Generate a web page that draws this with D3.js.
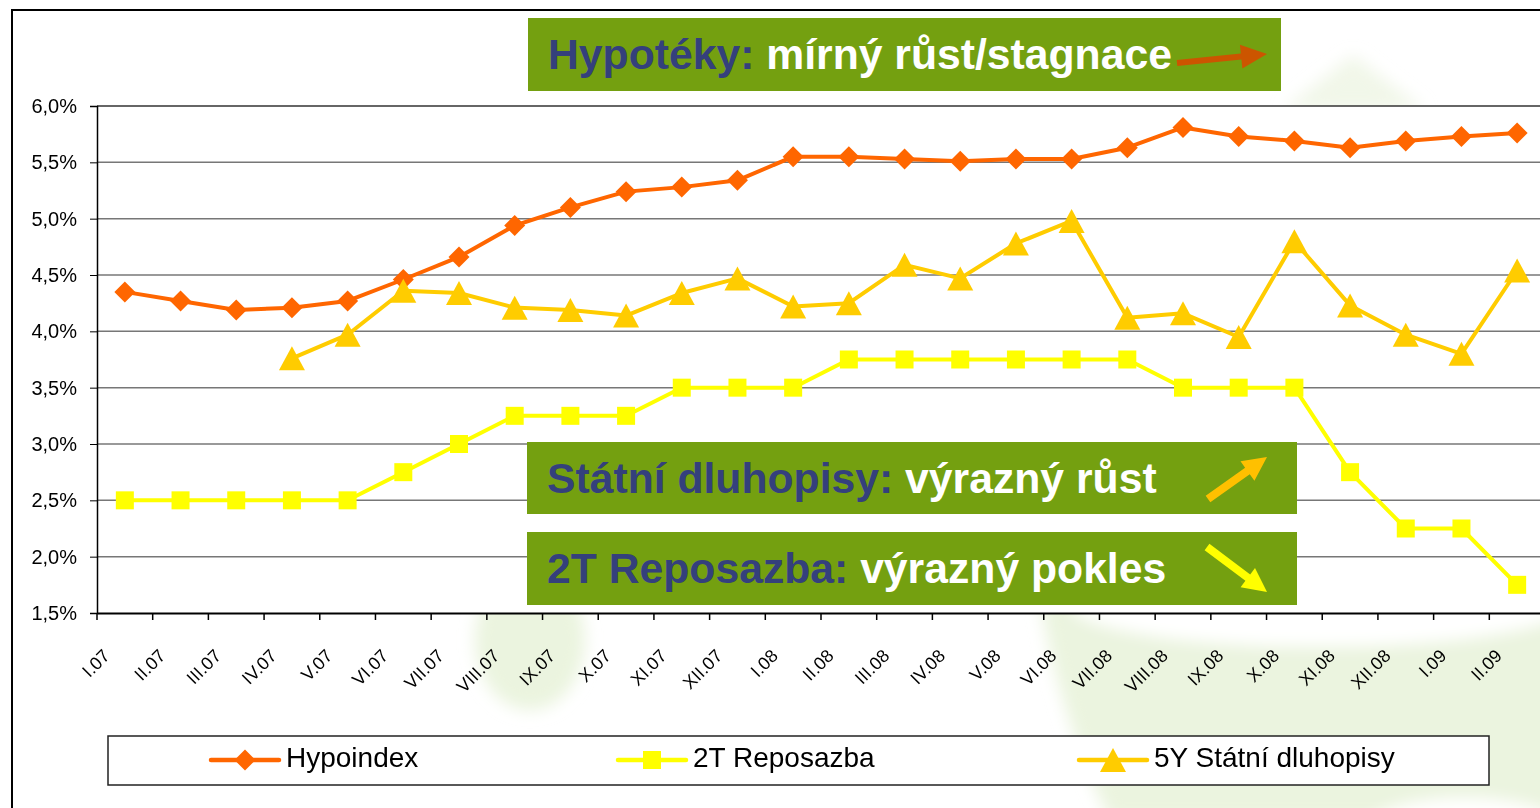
<!DOCTYPE html>
<html>
<head>
<meta charset="utf-8">
<script src="https://cdn.jsdelivr.net/npm/d3@7"></script>
<style>
  body { margin: 0; background: #fff; }
  text { font-family: "Liberation Sans", Arial, sans-serif; white-space: pre; }
</style>
</head>
<body>
<div id="chart"></div>
<script>
// months on the x axis
var months = ["I.07","II.07","III.07","IV.07","V.07","VI.07","VII.07","VIII.07","IX.07","X.07","XI.07","XII.07",
              "I.08","II.08","III.08","IV.08","V.08","VI.08","VII.08","VIII.08","IX.08","X.08","XI.08","XII.08",
              "I.09","II.09"];

// series values (%)
var hypoindex = [4.35,4.27,4.19,4.21,4.27,4.46,4.66,4.94,5.10,5.24,5.28,5.34,5.55,5.55,5.53,5.51,5.53,5.53,5.63,5.81,5.73,5.69,5.63,5.69,5.73,5.76];
var repo2T    = [2.50,2.50,2.50,2.50,2.50,2.75,3.00,3.25,3.25,3.25,3.50,3.50,3.50,3.75,3.75,3.75,3.75,3.75,3.75,3.50,3.50,3.50,2.75,2.25,2.25,1.75];
var bonds5Y   = [null,null,null,3.76,3.97,4.36,4.34,4.21,4.19,4.14,4.34,4.47,4.22,4.25,4.59,4.47,4.78,4.98,4.12,4.16,3.95,4.80,4.23,3.97,3.80,4.54];

var yTicks = [1.5,2.0,2.5,3.0,3.5,4.0,4.5,5.0,5.5,6.0];
var seriesNames = ["Hypoindex","2T Reposazba","5Y Státní dluhopisy"];

var W = 1540, H = 808;
var svg = d3.select("#chart").append("svg").attr("width", W).attr("height", H);

// faint logo watermark behind the chart
var defs = svg.append("defs");
defs.append("filter").attr("id","blur").append("feGaussianBlur").attr("stdDeviation", 8);
var wm = svg.append("g").attr("filter","url(#blur)").attr("fill","#ebf4df");
wm.append("path").attr("d","M1353,55 L1425,110 L1283,110 Z").attr("opacity",0.7);
wm.append("ellipse").attr("cx",530).attr("cy",640).attr("rx",55).attr("ry",70);
wm.append("path").attr("d","M1040,600 L1560,600 L1560,820 L1110,820 Q1060,720 1040,600 Z");
var wh = svg.append("g").attr("filter","url(#blur)").attr("fill","#fff");
wh.append("ellipse").attr("cx",1320).attr("cy",605).attr("rx",250).attr("ry",42);
wh.append("ellipse").attr("cx",1465).attr("cy",835).attr("rx",105).attr("ry",38);

// outer frame
svg.append("rect").attr("x",12).attr("y",10).attr("width",W).attr("height",H)
  .attr("fill","none").attr("stroke","#000").attr("stroke-width",2);

var x = d3.scaleBand().domain(months).range([97, 1545]);
var y = d3.scaleLinear().domain([1.5, 6]).range([613, 106]);

// plot area
svg.append("rect").attr("x",97).attr("y",106).attr("width",1545-97).attr("height",613-106).attr("fill","#fff");

svg.append("g").selectAll("line").data(yTicks.slice(1)).enter().append("line")
  .attr("x1",97).attr("x2",W).attr("y1",function(d){return y(d);}).attr("y2",function(d){return y(d);})
  .attr("stroke",function(d){ return d === 6 ? "#333" : "#777"; }).attr("stroke-width",1.5);

var yAxis = svg.append("g").attr("transform","translate(97,0)")
  .call(d3.axisLeft(y).tickValues(yTicks).tickSize(7).tickPadding(13)
    .tickFormat(function(d){ return d3.format(".1f")(d).replace(".", ",") + "%"; }));
yAxis.select(".domain").attr("stroke","#000").attr("stroke-width",1.5);
yAxis.selectAll("text").attr("font-size",20).attr("fill","#000").attr("font-family","Liberation Sans, Arial");

var xAxis = svg.append("g").attr("transform","translate(0,613)")
  .call(d3.axisBottom(x).tickSize(0).tickFormat(""));
xAxis.select(".domain").attr("stroke","#000").attr("stroke-width",2);
svg.append("g").selectAll("line").data(d3.range(months.length + 1)).enter().append("line")
  .attr("x1",function(i){return 97 + i * x.step();}).attr("x2",function(i){return 97 + i * x.step();})
  .attr("y1",613).attr("y2",620).attr("stroke","#000").attr("stroke-width",1.5);

svg.append("g").selectAll("text").data(months).enter().append("text")
  .attr("transform",function(d){ return "translate(" + (x(d) + x.bandwidth()/2 - 14) + ",657) rotate(-45)"; })
  .attr("text-anchor","end").attr("font-size",18).attr("fill","#000")
  .text(function(d){ return d; });

// markers
var diamond = "M0,-10.5L10.5,0L0,10.5L-10.5,0Z";
var square = "M-9,-9H9V9H-9Z";
var triangle = "M0,-12L13,12L-13,12Z";

var series = [
  {name: seriesNames[0], values: hypoindex, color: "#ff6600", marker: diamond},
  {name: seriesNames[1], values: repo2T, color: "#ffff00", marker: square},
  {name: seriesNames[2], values: bonds5Y, color: "#ffcc00", marker: triangle}
];

var line = d3.line()
  .defined(function(d){ return d != null; })
  .x(function(d, i){ return x(months[i]) + x.bandwidth()/2; })
  .y(function(d){ return y(d); });

series.forEach(function(s){
  svg.append("path").datum(s.values).attr("d", line)
    .attr("fill","none").attr("stroke", s.color).attr("stroke-width",4).attr("stroke-linejoin","round");
  svg.append("g").selectAll("path").data(s.values.map(function(v,i){ return {v:v, i:i}; }).filter(function(d){ return d.v != null; }))
    .enter().append("path")
    .attr("d", s.marker).attr("fill", s.color)
    .attr("transform", function(d){ return "translate(" + (x(months[d.i]) + x.bandwidth()/2) + "," + y(d.v) + ")"; });
});

// arrow polygon helper
function arrow(g, x1, y1, x2, y2, shaft, headLen, headW, color){
  var a = Math.atan2(y2 - y1, x2 - x1), L = Math.hypot(x2 - x1, y2 - y1);
  var pts = [[0,-shaft/2],[L-headLen,-shaft/2],[L-headLen,-headW],[L,0],[L-headLen,headW],[L-headLen,shaft/2],[0,shaft/2]];
  g.append("polygon").attr("points", pts.map(function(p){ return p.join(","); }).join(" "))
    .attr("fill", color)
    .attr("transform","translate(" + x1 + "," + y1 + ") rotate(" + (a * 180 / Math.PI) + ")");
}

// annotation boxes
var boxes = [
  {x:528, y:18, w:753, h:73, bold:"Hypotéky:", rest:" mírný růst/stagnace", ty:69, arr:[1177,63,1267,54,6,26,12,"#cc5500"]},
  {x:527, y:442, w:770, h:72, bold:"Státní dluhopisy:", rest:" výrazný růst", ty:493, arr:[1208,499,1267,457,8,24,12,"#ffc000"]},
  {x:527, y:532, w:770, h:73, bold:"2T Reposazba:", rest:" výrazný pokles", ty:583, arr:[1207,547,1267,592,8,24,12,"#ffff00"]}
];
boxes.forEach(function(b){
  var g = svg.append("g");
  g.append("rect").attr("x",b.x).attr("y",b.y).attr("width",b.w).attr("height",b.h).attr("fill","#74a010");
  var t = g.append("text").attr("x", b.x + 20).attr("y", b.ty).attr("font-size",42.7).attr("font-weight","bold");
  t.append("tspan").attr("fill","#34407c").text(b.bold);
  t.append("tspan").attr("fill","#fff").text(b.rest);
  arrow.apply(null, [g].concat(b.arr));
});

// legend
var lg = svg.append("g");
lg.append("rect").attr("x",108).attr("y",736).attr("width",1381).attr("height",49)
  .attr("fill","#fff").attr("stroke","#222").attr("stroke-width",1.5);
var legendX = [211, 618, 1079];
series.forEach(function(s, i){
  var lx = legendX[i];
  lg.append("line").attr("x1",lx).attr("x2",lx + 68).attr("y1",760).attr("y2",760)
    .attr("stroke", s.color).attr("stroke-width",4.5).attr("stroke-linecap","round");
  lg.append("path").attr("d", s.marker).attr("fill", s.color).attr("transform","translate(" + (lx + 34) + ",760)");
  lg.append("text").attr("x", lx + 75).attr("y", 767).attr("font-size",28).attr("fill","#000").text(s.name);
});
</script>
</body>
</html>
